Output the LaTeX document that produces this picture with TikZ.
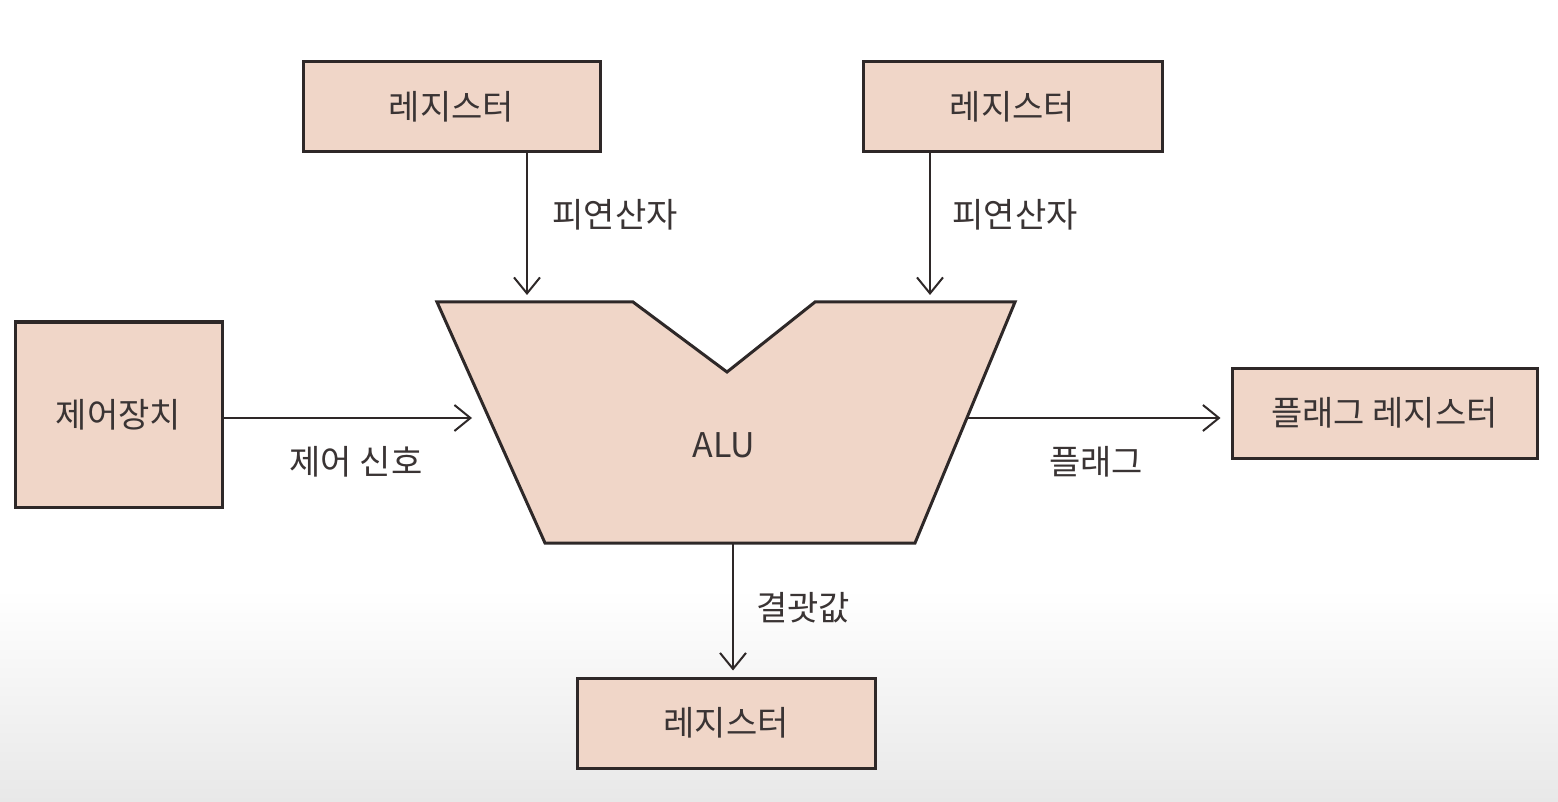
\documentclass[tikz,border=0pt]{standalone}
\usepackage{fontspec}
\setmainfont{Noto Sans CJK KR}
\usetikzlibrary{arrows.meta,calc}
\definecolor{boxfill}{HTML}{F0D6C8}
\definecolor{ink}{HTML}{2E2828}
\definecolor{txt}{HTML}{3A3434}
\begin{document}
\begin{tikzpicture}[x=0.5pt,y=-0.5pt,
  box/.style={draw=ink,line width=1.5pt,fill=boxfill,inner sep=0pt,text=txt,font=\fontsize{17}{20}\selectfont},
  lbl/.style={text=txt,font=\fontsize{17}{20}\selectfont,inner sep=0pt},
  arr/.style={draw=ink,line width=1pt,-{Straight Barb[length=8pt,width=13pt,line width=1pt]}}]
\useasboundingbox (0,0) rectangle (1558,802);
\fill[white] (0,0) rectangle (1558,590);
\shade[top color=white,bottom color=black!9] (0,589) rectangle (1558,802);
% nodes
\node[box,minimum width=148.5pt,minimum height=45pt] (r1) at (451.5,107) {레지스터};
\node[box,minimum width=149.5pt,minimum height=45pt] (r2) at (1012.5,107) {레지스터};
\node[box,minimum width=103.5pt,minimum height=92.5pt] (cu) at (118.5,414.5) {제어장치};
\node[box,minimum width=152.5pt,minimum height=45pt] (fr) at (1384.5,413) {플래그 레지스터};
\node[box,minimum width=149pt,minimum height=45pt] (r3) at (726,723) {레지스터};
% ALU
\coordinate (aTL) at (437,302);
\coordinate (aN1) at (633,302);
\coordinate (aNB) at (727,372);
\coordinate (aN2) at (815,302);
\coordinate (aTR) at (1015,302);
\coordinate (aBR) at (915,543);
\coordinate (aBL) at (545,543);
\filldraw[draw=ink,fill=boxfill,line width=1.5pt,line join=miter]
  (aTL) -- (aN1) -- (aNB) -- (aN2) -- (aTR) -- (aBR) -- (aBL) -- cycle;
\node[lbl] (alu) at (724,445) {ALU};
% connector endpoints
\coordinate (in1) at (527,295);
\coordinate (in2) at (930,295);
\coordinate (cin) at (472,418);
\coordinate (fout) at (967,418);
\coordinate (rout) at (733,543);
% connectors
\draw[arr] (r1.south -| in1) -- (in1);
\draw[arr] (r2.south -| in2) -- (in2);
\draw[arr] (cu.east |- cin) -- (cin);
\draw[arr] (fout) -- ($(fr.west |- fout)+(-10,0)$);
\draw[arr] (rout) -- ($(r3.north -| rout)+(0,-6)$);
% labels
\node[lbl] (l1) at (615,215) {피연산자};
\node[lbl] (l2) at (1015,215) {피연산자};
\node[lbl] (l3) at (356,462) {제어 신호};
\node[lbl] (l4) at (1096,462) {플래그};
\node[lbl] (l5) at (803,608) {결괏값};
\end{tikzpicture}
\end{document}
